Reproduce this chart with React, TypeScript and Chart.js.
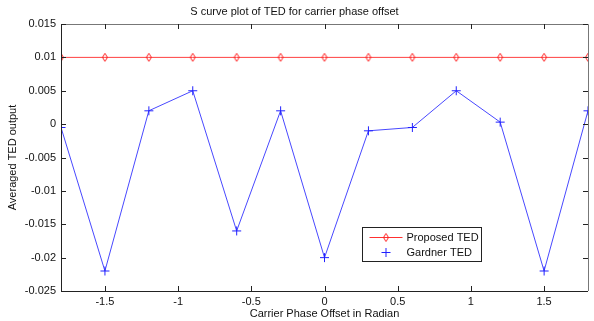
import React, { useEffect, useRef } from "react";
import { Chart, registerables } from "chart.js";

Chart.register(...registerables);

const phaseOffsets = [-1.8, -1.5, -1.2, -0.9, -0.6, -0.3, 0, 0.3, 0.6, 0.9, 1.2, 1.5, 1.8];
const proposedTED = [0.01, 0.01, 0.01, 0.01, 0.01, 0.01, 0.01, 0.01, 0.01, 0.01, 0.01, 0.01, 0.01];
const gardnerTED = [-0.0005, -0.022, 0.002, 0.005, -0.016, 0.002, -0.02, -0.001, -0.0005, 0.005, 0.0003, -0.022, 0.002];
const xTickValues = [-1.5, -1, -0.5, 0, 0.5, 1, 1.5];
const yTickValues = [-0.025, -0.02, -0.015, -0.01, -0.005, 0, 0.005, 0.01, 0.015];
const seriesNames = ["Proposed TED", "Gardner TED"];

const FONT = "'Liberation Sans', Arial, sans-serif";

function makeDiamond(color: string): HTMLCanvasElement {
  const c = document.createElement("canvas");
  c.width = 8;
  c.height = 10;
  const g = c.getContext("2d")!;
  g.strokeStyle = color;
  g.lineWidth = 1;
  g.beginPath();
  g.moveTo(4, 1);
  g.lineTo(6.5, 5);
  g.lineTo(4, 9);
  g.lineTo(1.5, 5);
  g.closePath();
  g.stroke();
  return c;
}

function makePlus(color: string): HTMLCanvasElement {
  const c = document.createElement("canvas");
  c.width = 11;
  c.height = 11;
  const g = c.getContext("2d")!;
  g.strokeStyle = color;
  g.lineWidth = 1;
  g.beginPath();
  g.moveTo(1, 5.5);
  g.lineTo(10, 5.5);
  g.moveTo(5.5, 1);
  g.lineTo(5.5, 10);
  g.stroke();
  return c;
}

const framePlugin = {
  id: "matlabFrame",
  afterDatasetsDraw(chart: any) {
    const { ctx, chartArea } = chart;
    const { left, right, top, bottom } = chartArea;
    const xs = chart.scales.x;
    const ys = chart.scales.y;
    ctx.save();
    ctx.lineWidth = 1;
    // frame
    ctx.strokeStyle = "#777777";
    ctx.beginPath();
    ctx.moveTo(left, top + 0.5);
    ctx.lineTo(right + 0.5, top + 0.5);
    ctx.lineTo(right + 0.5, bottom);
    ctx.stroke();
    ctx.strokeStyle = "#222222";
    ctx.beginPath();
    ctx.moveTo(left + 0.5, top);
    ctx.lineTo(left + 0.5, bottom + 0.5);
    ctx.lineTo(right, bottom + 0.5);
    ctx.stroke();
    // inward ticks
    ctx.strokeStyle = "#222222";
    const tl = 5;
    ctx.beginPath();
    xTickValues.forEach((v) => {
      const px = Math.round(xs.getPixelForValue(v)) + 0.5;
      ctx.moveTo(px, bottom);
      ctx.lineTo(px, bottom - tl);
      ctx.moveTo(px, top);
      ctx.lineTo(px, top + tl);
    });
    yTickValues.forEach((v) => {
      const py = Math.round(ys.getPixelForValue(v)) + 0.5;
      ctx.moveTo(left, py);
      ctx.lineTo(left + tl, py);
      ctx.moveTo(right, py);
      ctx.lineTo(right - tl, py);
    });
    ctx.stroke();

    // legend box
    const bx = 362.5, by = 227.5, bw = 119, bh = 34;
    ctx.fillStyle = "#ffffff";
    ctx.fillRect(bx, by, bw, bh);
    ctx.strokeStyle = "#222222";
    ctx.strokeRect(bx, by, bw, bh);
    const rows = [by + 10, by + 25];
    // Proposed
    ctx.strokeStyle = "#ff3030";
    ctx.beginPath();
    ctx.moveTo(bx + 7, rows[0]);
    ctx.lineTo(bx + 40, rows[0]);
    ctx.stroke();
    const dia = makeDiamond("#ff2020");
    ctx.drawImage(dia, bx + 23.5 - 4, rows[0] - 5);
    const plus = makePlus("#2020ff");
    ctx.drawImage(plus, bx + 23.5 - 5.5, rows[1] - 5.5);
    ctx.fillStyle = "#111111";
    ctx.font = `11px ${FONT}`;
    ctx.textBaseline = "middle";
    ctx.textAlign = "left";
    ctx.fillText(seriesNames[0], bx + 44, rows[0]);
    ctx.fillText(seriesNames[1], bx + 44, rows[1]);
    ctx.restore();
  },
};

function fmt(v: number): string {
  const r = Math.round(v * 100000) / 100000;
  return String(r);
}

export default function App() {
  const ref = useRef<HTMLCanvasElement | null>(null);
  useEffect(() => {
    if (!ref.current) return;
    const diamond = makeDiamond("#ff2020");
    const plus = makePlus("#2020ff");
    const chart = new Chart(ref.current, {
      type: "line",
      data: {
        datasets: [
          {
            label: seriesNames[0],
            data: phaseOffsets.map((x, i) => ({ x, y: proposedTED[i] })),
            borderColor: "#ff4040",
            backgroundColor: "#ff4040",
            borderWidth: 1,
            pointStyle: diamond as any,
            pointRadius: 4,
            tension: 0,
          },
          {
            label: seriesNames[1],
            data: phaseOffsets.map((x, i) => ({ x, y: gardnerTED[i] })),
            borderColor: "#4848ff",
            backgroundColor: "#4848ff",
            borderWidth: 1,
            pointStyle: plus as any,
            pointRadius: 5,
            tension: 0,
          },
        ],
      },
      options: {
        animation: false,
        responsive: false,
        devicePixelRatio: 1,
        layout: { padding: { left: 0, right: 5, top: 0, bottom: 0 } },
        plugins: {
          legend: { display: false },
          tooltip: { enabled: false },
          title: {
            display: true,
            text: "S curve plot of TED for carrier phase offset",
            color: "#111111",
            font: { family: FONT, size: 11, weight: "normal" },
            padding: { top: 5, bottom: 5.8 },
          },
        },
        scales: {
          x: {
            type: "linear",
            min: -1.8,
            max: 1.8,
            afterBuildTicks: (s: any) => {
              s.ticks = xTickValues.map((v) => ({ value: v }));
            },
            afterFit: (s: any) => {
              s.height = 30;
            },
            grid: { display: false, drawTicks: false },
            border: { display: false },
            ticks: {
              color: "#111111",
              font: { family: FONT, size: 11 },
              padding: 4,
              maxRotation: 0,
              autoSkip: false,
              callback: (v: any) => fmt(Number(v)),
            },
            title: {
              display: true,
              text: "Carrier Phase Offset in Radian",
              color: "#111111",
              font: { family: FONT, size: 11 },
              padding: { top: 0, bottom: 0 },
            },
          },
          y: {
            type: "linear",
            min: -0.025,
            max: 0.015,
            afterBuildTicks: (s: any) => {
              s.ticks = yTickValues.map((v) => ({ value: v }));
            },
            afterFit: (s: any) => {
              s.width = 61;
            },
            grid: { display: false, drawTicks: false },
            border: { display: false },
            ticks: {
              color: "#111111",
              font: { family: FONT, size: 11 },
              padding: 5,
              autoSkip: false,
              callback: (v: any) => fmt(Number(v)),
            },
            title: {
              display: true,
              text: "Averaged TED output",
              color: "#111111",
              font: { family: FONT, size: 11 },
              padding: { top: 6, bottom: 0 },
            },
          },
        },
      },
      plugins: [framePlugin],
    });
    return () => chart.destroy();
  }, []);
  return (
    <div style={{ position: "fixed", left: 0, top: 0, width: 594, height: 321, background: "#ffffff" }}>
      <canvas ref={ref} width={594} height={321} style={{ display: "block", width: 594, height: 321 }} />
    </div>
  );
}
